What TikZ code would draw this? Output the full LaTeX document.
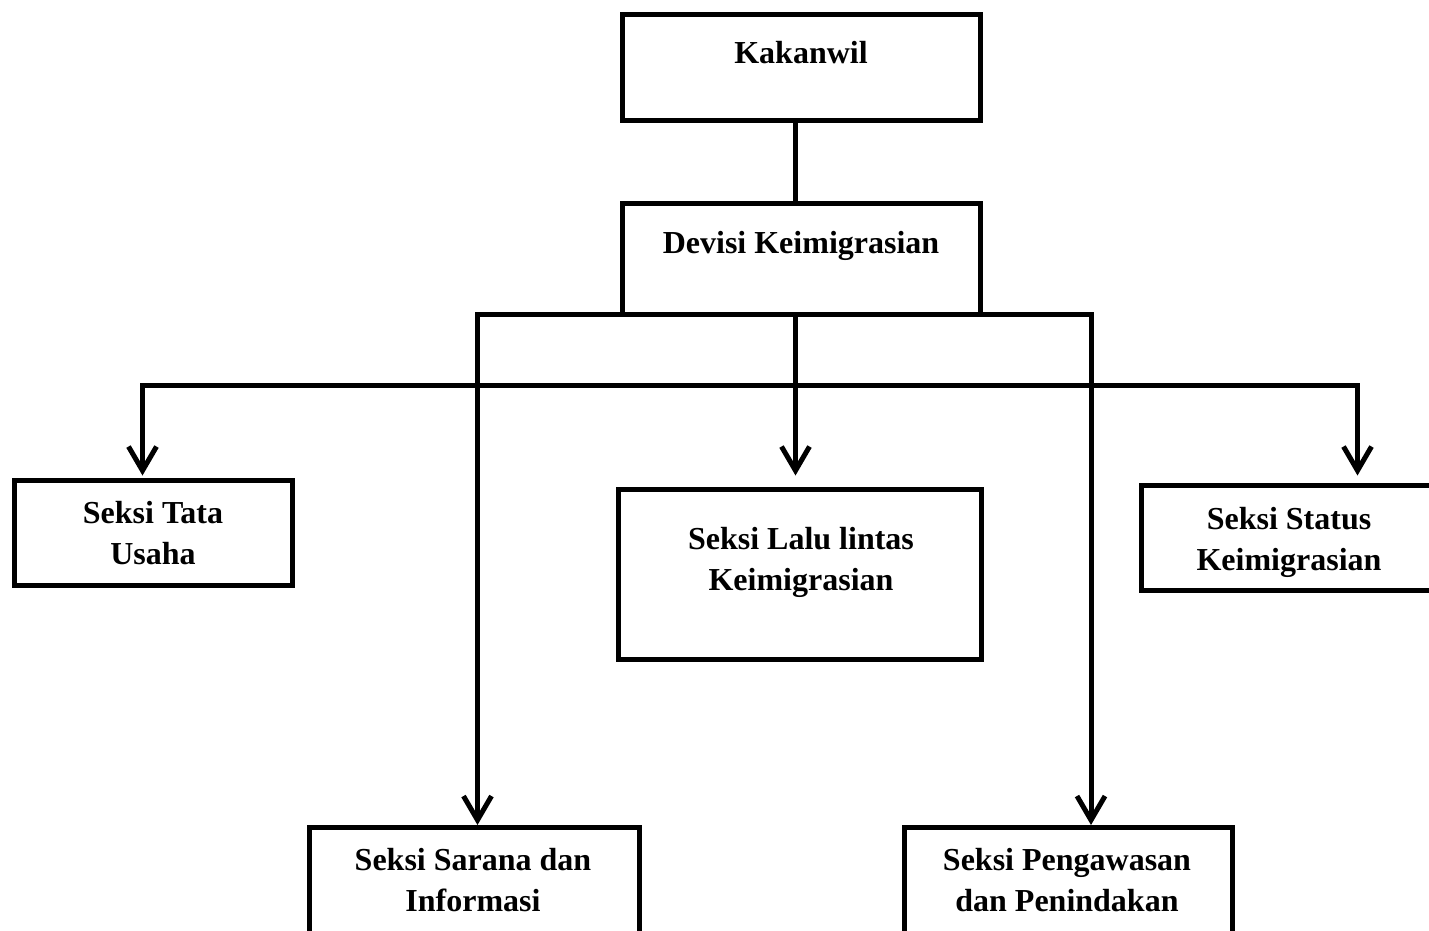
\documentclass[tikz,border=0pt]{standalone}
\usepackage{fontspec}
\setmainfont{Liberation Serif}
\usepackage{tikz}
\usetikzlibrary{arrows.meta, calc}

\begin{document}
\begin{tikzpicture}[x=1pt, y=-1pt, line width=5pt, >={Straight Barb[length=24pt, width=28pt]},
    box/.style={draw, rectangle, inner sep=0pt},
    lbl/.style={align=center, inner sep=0pt, font=\fontsize{32}{41}\selectfont\bfseries}]
    \clip (0,0) rectangle (1429,930);
    \node[box, minimum width=358, minimum height=106] (kakanwil) at (801,67) {};
    \node[box, minimum width=358, minimum height=111] (devisi) at (801,258.5) {};
    \node[box, minimum width=278, minimum height=105] (tata) at (153.5,533) {};
    \node[box, minimum width=363, minimum height=170] (lalu) at (799.5,574.5) {};
    \node[box, minimum width=308.5, minimum height=105] (status) at (1295.75,538) {};
    \node[box, minimum width=330, minimum height=132.5] (sarana) at (474,893.75) {};
    \node[box, minimum width=328, minimum height=132.5] (pengawasan) at (1068,893.75) {};
    \node[lbl] (kakanwil-t) at (801,53) {Kakanwil};
    \node[lbl] (devisi-t) at (801,246) {Devisi Keimigrasian};
    \node[lbl] (tata-t) at (153,533) {Seksi Tata\\Usaha};
    \node[lbl] (lalu-t) at (801,562) {Seksi Lalu lintas\\Keimigrasian};
    \node[lbl] (status-t) at (1289,542) {Seksi Status\\Keimigrasian};
    \node[lbl] (sarana-t) at (473,880) {Seksi Sarana dan\\Informasi};
    \node[lbl] (pengawasan-t) at (1067,880) {Seksi Pengawasan\\dan Penindakan};
    \coordinate (bus) at (795.5,314);
    \coordinate (row) at (795.5,385.5);
    \draw (kakanwil.south -| bus) -- (devisi.north -| bus);
    \draw[->] (bus) -| ([xshift=3.5pt]sarana.north);
    \draw[->] (bus) -| ([xshift=23pt]pengawasan.north);
    \draw[->] (bus) -- ([yshift=11.5pt]lalu.north -| bus);
    \draw[->] (row) -| ([xshift=-11pt, yshift=2.5pt]tata.north);
    \draw[->] (row) -| ([xshift=61.75pt, yshift=7.5pt]status.north);
\end{tikzpicture}
\end{document}
